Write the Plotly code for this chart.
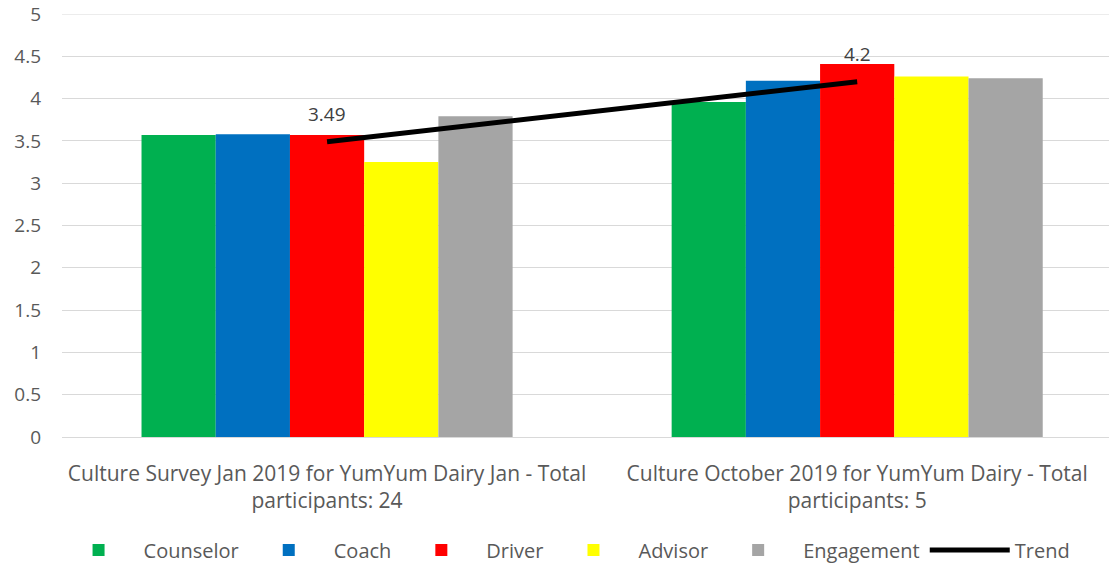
import plotly.graph_objects as go

categories = ["Culture Survey Jan 2019 for YumYum Dairy Jan - Total<br>participants: 24",
              "Culture October 2019 for YumYum Dairy - Total<br>participants: 5"]
counselor = [3.57, 3.96]
coach = [3.58, 4.21]
driver = [3.57, 4.41]
advisor = [3.25, 4.26]
engagement = [3.79, 4.24]
trend = [3.49, 4.2]
trend_labels = ["3.49", "4.2"]

series = [("Counselor", counselor, "#00B050"), ("Coach", coach, "#0070C0"),
          ("Driver", driver, "#FF0000"), ("Advisor", advisor, "#FFFF00"),
          ("Engagement", engagement, "#A5A5A5")]

FONT = "Open Sans"
fig = go.Figure()
for name, vals, col in series:
    fig.add_trace(go.Bar(x=categories, y=vals, name=name, marker_color=col, marker_line_width=0))
fig.add_trace(go.Scatter(x=categories, y=trend, name="Trend", mode="lines",
                         line=dict(color="black", width=5)))
for c, v, t in zip(categories, trend, trend_labels):
    fig.add_annotation(x=c, y=v, text=t, showarrow=False, yshift=28,
                       font=dict(size=19, color="#404040", family=FONT))

fig.update_layout(
    width=1109, height=564,
    margin=dict(l=62, r=0, t=14, b=127, autoexpand=False),
    plot_bgcolor="white", paper_bgcolor="white",
    barmode="group", bargap=0.3, bargroupgap=0,
    font=dict(family=FONT, size=19, color="#595959"),
    legend=dict(orientation="h", x=0.48, xanchor="center", y=-0.267, yanchor="middle",
                font=dict(size=20, color="#595959", family=FONT), traceorder="normal",
                itemwidth=80),
    showlegend=True,
)
fig.update_yaxes(range=[0, 5], dtick=0.5, gridcolor="#D9D9D9", gridwidth=1,
                 zeroline=True, zerolinecolor="#D9D9D9", zerolinewidth=1,
                 tickfont=dict(size=19, color="#595959"), ticks="", ticklabelstandoff=20,
                 ticklabeloverflow="allow")
fig.update_xaxes(tickfont=dict(size=21, color="#595959"), showline=False, ticks="",
                 range=[-0.5, 1.475], ticklabelstandoff=22)
fig.add_hline(y=5, line_color="#D9D9D9", line_width=1, layer="below")

fig.write_html("out.html", config={"displayModeBar": False},
               post_script="document.body.style.margin='0';document.body.style.overflow='hidden';")
